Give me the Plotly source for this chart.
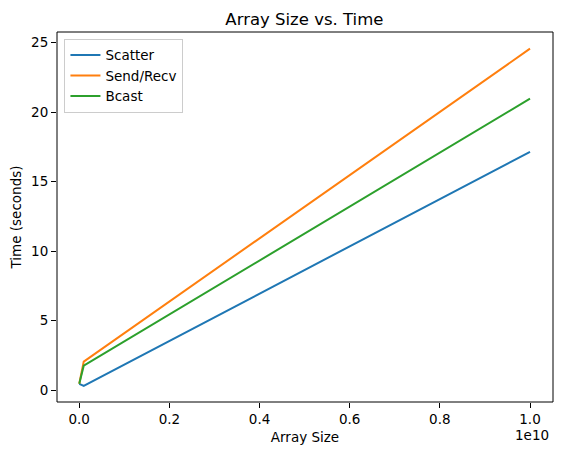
import plotly.graph_objects as go

# array sizes tested and timings (seconds)
sizes = [1e6, 1e8, 1e10]
scatter_times = [0.45, 0.3, 17.15]
sendrecv_times = [0.45, 2.05, 24.57]
bcast_times = [0.45, 1.75, 20.97]

x_ticks = [0, 0.2e10, 0.4e10, 0.6e10, 0.8e10, 1.0e10]
x_tick_labels = ["0.0", "0.2", "0.4", "0.6", "0.8", "1.0"]
y_ticks = [0, 5, 10, 15, 20, 25]

fnt = "DejaVu Sans"

fig = go.Figure()
fig.add_trace(go.Scatter(x=sizes, y=scatter_times, mode="lines", name="Scatter",
                         line=dict(color="#1f77b4", width=2)))
fig.add_trace(go.Scatter(x=sizes, y=sendrecv_times, mode="lines", name="Send/Recv",
                         line=dict(color="#ff7f0e", width=2)))
fig.add_trace(go.Scatter(x=sizes, y=bcast_times, mode="lines", name="Bcast",
                         line=dict(color="#2ca02c", width=2)))

axis_style = dict(showline=False, ticks="outside", ticklen=5, tickcolor="black",
                  showgrid=False, zeroline=False, automargin=False,
                  tickfont=dict(family=fnt, size=13.5, color="black"))

# the page body adds an 8px margin, so the figure is 8px smaller and shifted
fig.update_layout(
    width=554, height=447,
    margin=dict(l=49, r=9, t=24, b=53, autoexpand=False),
    paper_bgcolor="white", plot_bgcolor="white",
    font=dict(family=fnt, color="black"),
    title=dict(text="Array Size vs. Time", x=0.535, xanchor="center", y=0.975, yanchor="middle",
               font=dict(family=fnt, size=16.5, color="black")),
    xaxis=dict(range=[-0.0493e10, 1.051e10], tickvals=x_ticks, ticktext=x_tick_labels,
               title=dict(text="Array Size", font=dict(family=fnt, size=13.5), standoff=6),
               **axis_style),
    yaxis=dict(range=[-0.86, 25.77], tickvals=y_ticks,
               title=dict(text="Time (seconds)", font=dict(family=fnt, size=13.5), standoff=6),
               **axis_style),
    legend=dict(x=0.015, y=0.982, xanchor="left", yanchor="top",
                bgcolor="rgba(255,255,255,0.8)", bordercolor="#cccccc", borderwidth=1,
                font=dict(family=fnt, size=13.5), itemwidth=30, tracegroupgap=0),
    showlegend=True,
)

# axes frame
fig.add_shape(type="rect", xref="paper", yref="paper", x0=0, y0=0, x1=1, y1=1,
              line=dict(color="black", width=1), layer="above")

# matplotlib-style offset text for the x axis
fig.add_annotation(text="1e10", xref="paper", yref="paper", x=0.996, y=-0.062,
                   xanchor="right", yanchor="top", showarrow=False,
                   font=dict(family=fnt, size=13.5, color="black"))

fig.write_html("out.html")
